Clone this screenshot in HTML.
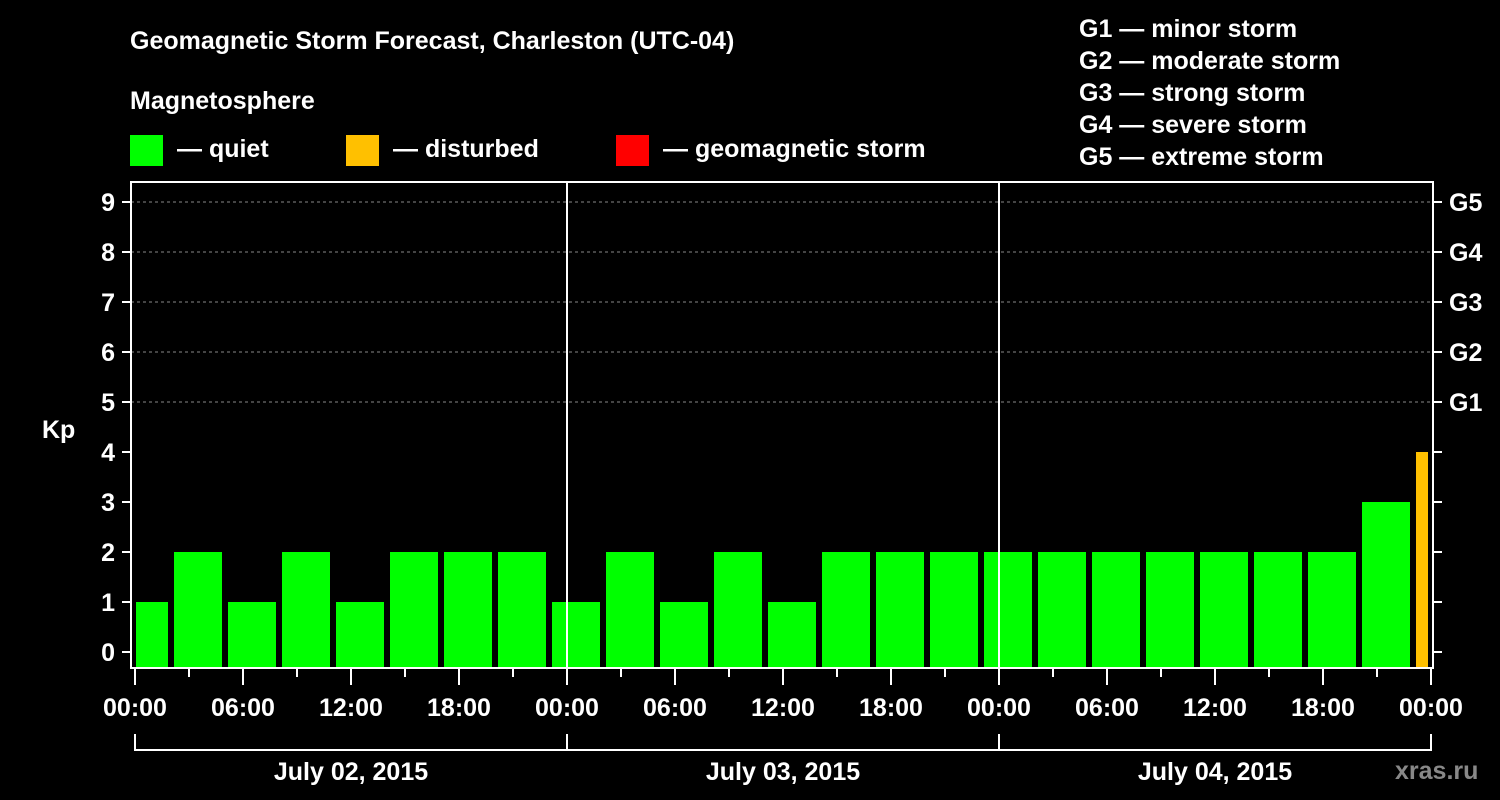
<!DOCTYPE html>
<html><head><meta charset="utf-8"><style>
html,body{margin:0;padding:0;background:#000;}
svg{display:block;font-family:"Liberation Sans",Arial,sans-serif;font-weight:bold;}
</style></head><body>
<svg id="c" width="1500" height="800" viewBox="0 0 1500 800">
<rect width="1500" height="800" fill="#000"/>
<text x="130" y="49" fill="#fff" font-size="25">Geomagnetic Storm Forecast, Charleston (UTC-04)</text>
<text x="130" y="109" fill="#fff" font-size="25">Magnetosphere</text>
<g><rect x="130" y="135" width="33" height="31" fill="#00ff00"/><text x="177" y="157" fill="#fff" font-size="25">— quiet</text></g>
<g><rect x="346" y="135" width="33" height="31" fill="#ffc000"/><text x="393" y="157" fill="#fff" font-size="25">— disturbed</text></g>
<g><rect x="616" y="135" width="33" height="31" fill="#ff0000"/><text x="663" y="157" fill="#fff" font-size="25">— geomagnetic storm</text></g>
<g fill="#fff" font-size="25">
<text x="1079" y="37">G1 — minor storm</text>
<text x="1079" y="69">G2 — moderate storm</text>
<text x="1079" y="101">G3 — strong storm</text>
<text x="1079" y="133">G4 — severe storm</text>
<text x="1079" y="165">G5 — extreme storm</text>
</g>
<text x="42" y="438" fill="#fff" font-size="25">Kp</text>
<g id="grid"></g><g id="bars"></g><g id="axes"></g>
<text x="1395" y="779" fill="#888" font-size="25">xras.ru</text>
</svg>
<script>
const kpValues=[1,2,1,2,1,2,2,2,1,2,1,2,1,2,2,2,2,2,2,2,2,2,2,3,4];
const barStartHours=[0,2,5,8,11,14,17,20,23,26,29,32,35,38,41,44,47,50,53,56,59,62,65,68,71];
const yTicks=[0,1,2,3,4,5,6,7,8,9];
const gLabels=["G1","G2","G3","G4","G5"];
const xTickLabels=["00:00","06:00","12:00","18:00"];
const dayLabels=["July 02, 2015","July 03, 2015","July 04, 2015"];
const NS="http://www.w3.org/2000/svg";
const X0=135,PXH=18,TOTAL=72,Y0=652,PXK=50,BOT=668,TOP=182,LEFT=131,RIGHT=1433;
const xs=h=>X0+h*PXH, ys=k=>Y0-k*PXK;
function mk(tag,attrs,parent,txt){const e=document.createElementNS(NS,tag);for(const k in attrs)e.setAttribute(k,attrs[k]);if(txt!=null)e.textContent=txt;document.getElementById(parent).appendChild(e);return e;}
// grid
yTicks.forEach(k=>{if(k>=5){const l=mk('line',{x1:LEFT,x2:RIGHT,y1:ys(k),y2:ys(k),stroke:'#888','stroke-dasharray':'3,3','stroke-width':1},'grid');

}});
// bars
kpValues.forEach((v,i)=>{const s=barStartHours[i];const e=i+1<barStartHours.length?barStartHours[i+1]:TOTAL;
const col=v>=5?'#ff0000':(v>=4?'#ffc000':'#00ff00');
const x1=xs(s)+(i==0?1:3),x2=xs(e)-3;
const r=mk('rect',{x:x1,y:ys(v),width:x2-x1,height:BOT-ys(v),fill:col},'bars');

});
// day separators
for(let d=1;d<3;d++){const l=mk('line',{x1:xs(d*24),x2:xs(d*24),y1:TOP,y2:BOT,stroke:'#fff','stroke-width':2},'axes');

}
// frame
const f=mk('rect',{x:LEFT,y:TOP,width:RIGHT-LEFT,height:BOT-TOP,fill:'none',stroke:'#fff','stroke-width':2},'axes');


// y ticks
yTicks.forEach(k=>{const y=ys(k);
mk('line',{x1:LEFT-9,x2:LEFT,y1:y,y2:y,stroke:'#fff','stroke-width':2},'axes');
mk('line',{x1:RIGHT,x2:RIGHT+9,y1:y,y2:y,stroke:'#fff','stroke-width':2},'axes');
const t=mk('text',{x:LEFT-16,y:y+9,fill:'#fff','font-size':25,'text-anchor':'end'},'axes',String(k));


if(k>=5){const g=mk('text',{x:RIGHT+16,y:y+9,fill:'#fff','font-size':25},'axes',gLabels[k-5]);

}});
// x ticks
for(let h=0;h<=TOTAL;h+=3){const major=h%6==0;
mk('line',{x1:xs(h),x2:xs(h),y1:BOT,y2:BOT+(major?17:9),stroke:'#fff','stroke-width':2},'axes');
if(major){const t=mk('text',{x:xs(h),y:716,fill:'#fff','font-size':25,'text-anchor':'middle'},'axes',xTickLabels[(h/6)%4]);

}}
// day bracket
const b=mk('path',{d:`M${xs(0)},734 V750 H${xs(TOTAL)} V734 M${xs(24)},734 V750 M${xs(48)},734 V750`,stroke:'#fff','stroke-width':2,fill:'none'},'axes');


dayLabels.forEach((d,i)=>{const t=mk('text',{x:xs(i*24+12),y:780,fill:'#fff','font-size':25,'text-anchor':'middle'},'axes',d);

});
</script>
</body></html>
